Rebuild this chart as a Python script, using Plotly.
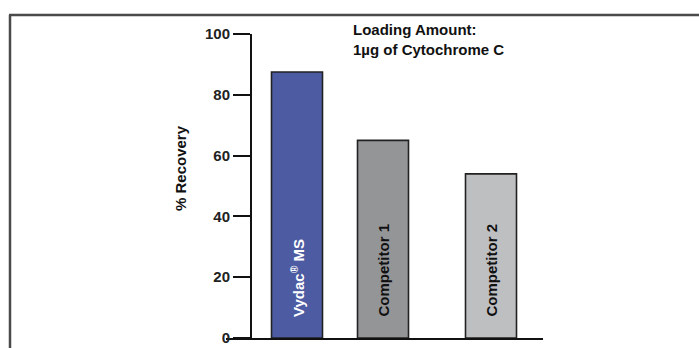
import plotly.graph_objects as go

# ---- data ----
categories = ["Vydac MS", "Competitor 1", "Competitor 2"]
bar_labels = ["Vydac<sup>®</sup> MS", "Competitor 1", "Competitor 2"]
recovery = [87.5, 65, 54]
y_ticks = [0, 20, 40, 60, 80, 100]
y_tick_labels = ["<b>0</b>", "<b>20</b>", "<b>40</b>", "<b>60</b>", "<b>80</b>", "<b>100</b>"]
y_title = "% Recovery"
note_text = "<b>Loading Amount:</b><br><b>1µg of Cytochrome C</b>"

# ---- style ----
W, H = 699, 348
L, R, T, B = 226, 156, 34, 10
PW, PH = W - L - R, H - T - B
bar_colors = ["#4c5ba2", "#949597", "#bebfc1"]
label_colors = ["white", "#111111", "#111111"]
shift = [0.0, -0.14, -0.06]   # per-bar horizontal nudge (category units)
bw = 0.51
FONT = "Liberation Sans, Arial, Helvetica, sans-serif"

def px_x(px):
    return (px - L) / PW

def px_y(py):
    return (H - B - py) / PH

fig = go.Figure()
fig.add_trace(go.Bar(
    x=categories, y=recovery,
    width=bw,
    offset=[s - bw / 2 for s in shift],
    marker=dict(color=bar_colors, line=dict(color="#222222", width=1.6)),
    hoverinfo="skip",
))

annotations = []
for cat, lab, col, s in zip(categories, bar_labels, label_colors, shift):
    annotations.append(dict(
        x=cat, y=0, xref="x", yref="y", text="<b>" + lab + "</b>",
        textangle=-90, showarrow=False, xanchor="center", yanchor="bottom",
        xshift=s * 100, yshift=19,
        font=dict(family=FONT, size=15, color=col),
    ))

annotations.append(dict(
    x=px_x(351), y=px_y(19), xref="paper", yref="paper", text=note_text,
    showarrow=False, xanchor="left", yanchor="top", align="left",
    font=dict(family=FONT, size=15, color="#111111"),
))
annotations.append(dict(
    x=px_x(180), y=px_y(168), xref="paper", yref="paper",
    text="<b>" + y_title + "</b>", textangle=-90, showarrow=False,
    xanchor="center", yanchor="middle",
    font=dict(family=FONT, size=15, color="#111111"),
))

frame = "#4a4a4a"
shapes = [
    dict(type="line", xref="paper", yref="paper",
         x0=px_x(9), x1=px_x(702), y0=px_y(15), y1=px_y(15),
         line=dict(color=frame, width=2.5)),
    dict(type="line", xref="paper", yref="paper",
         x0=px_x(10), x1=px_x(10), y0=px_y(15), y1=px_y(352),
         line=dict(color=frame, width=2.5)),
]

fig.update_layout(
    width=W, height=H,
    margin=dict(l=L, r=R, t=T, b=B, autoexpand=False),
    paper_bgcolor="white", plot_bgcolor="white",
    showlegend=False,
    font=dict(family=FONT, size=15, color="#111111"),
    annotations=annotations, shapes=shapes,
    xaxis=dict(
        type="category", range=[-0.71, 2.46],
        showline=True, linecolor="#111111", linewidth=2,
        showticklabels=False, ticks="", showgrid=False, zeroline=False,
        fixedrange=True,
    ),
    yaxis=dict(
        range=[0, 100], tickvals=y_ticks, ticktext=y_tick_labels,
        anchor="free", position=px_x(251),
        showline=True, linecolor="#111111", linewidth=2,
        ticks="outside", ticklen=17, tickwidth=1.5, tickcolor="#111111",
        showgrid=False, zeroline=False,
        tickfont=dict(family=FONT, size=15, color="#222222"),
        fixedrange=True,
    ),
)

fig.write_html(
    "out.html",
    config={"displayModeBar": False},
    post_script="document.body.style.margin='0';document.body.style.overflow='hidden';",
)
